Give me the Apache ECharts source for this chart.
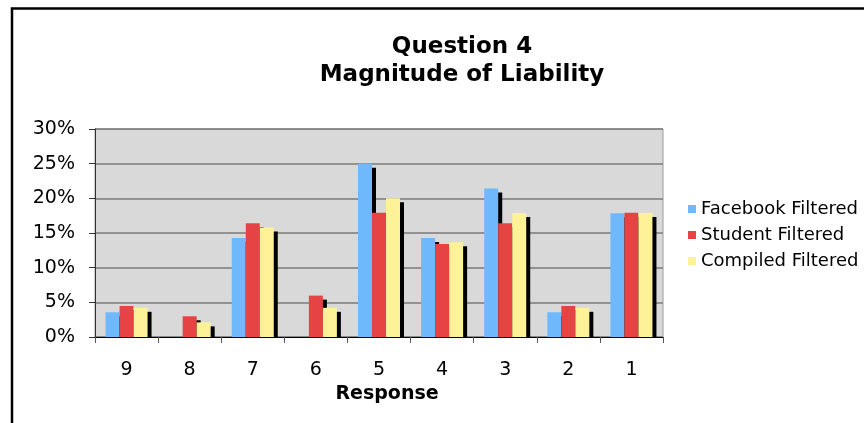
<!DOCTYPE html>
<html>
<head>
<meta charset="utf-8">
<script src="https://cdn.jsdelivr.net/npm/echarts@6/dist/echarts.min.js"></script>
<style>
  html, body { margin: 0; padding: 0; background: #fff; }
  #chart { width: 864px; height: 423px; }
</style>
</head>
<body>
<div id="chart"></div>
<script>
// responses, shown from 9 down to 1
const categories = ["9", "8", "7", "6", "5", "4", "3", "2", "1"]
// percentages
const facebook = [3.57, 0, 14.29, 0, 25.0, 14.29, 21.43, 3.57, 17.86]
const student = [4.48, 2.99, 16.42, 5.97, 17.91, 13.43, 16.42, 4.48, 17.91]
const compiled = [4.21, 2.11, 15.79, 4.21, 20.0, 13.68, 17.89, 4.21, 17.89]
const seriesNames = ["Facebook Filtered", "Student Filtered", "Compiled Filtered"]
const colors = ["#70b8fc", "#e64444", "#fdf297"]

const font = "DejaVu Sans, Verdana, sans-serif"

const barStyle = (color) => ({
  color: color,
  shadowColor: "#000",
  shadowBlur: 0,
  shadowOffsetX: 4,
  shadowOffsetY: 4,
})

const chart = echarts.init(document.getElementById("chart"))
chart.setOption({
  animation: false,
  color: colors,
  textStyle: { fontFamily: font },
  graphic: [
    {
      // outer frame
      type: "rect",
      shape: { x: 12, y: 8.5, width: 900, height: 500 },
      style: { fill: null, stroke: "#000", lineWidth: 2.5 },
    },
    {
      type: "text",
      x: 462,
      y: 33,
      style: {
        text: "Question 4\nMagnitude of Liability",
        textAlign: "center",
        fontFamily: font,
        fontWeight: "bold",
        fontSize: 23,
        lineHeight: 28,
        fill: "#000",
      },
    },
    {
      // hide the bar shadows below the axis
      type: "rect",
      z: 10,
      shape: { x: 95, y: 338, width: 575, height: 6 },
      style: { fill: "#fff" },
    },
  ],
  legend: {
    orient: "vertical",
    left: 683,
    top: 195,
    itemWidth: 8,
    itemHeight: 8,
    itemGap: 8,
    icon: "rect",
    textStyle: { fontSize: 18, color: "#000", fontFamily: font },
    data: seriesNames,
  },
  grid: {
    left: 95,
    right: 201,
    top: 129,
    bottom: 86,
    show: true,
    backgroundColor: "#d9d9d9",
    borderColor: "#9a9a9a",
    borderWidth: 1,
  },
  xAxis: {
    type: "category",
    data: categories,
    z: 20,
    name: "Response",
    nameLocation: "middle",
    nameGap: 48,
    nameTextStyle: {
      fontSize: 19,
      fontWeight: "bold",
      color: "#000",
      padding: [0, 0, 0, 16],
    },
    axisLine: { lineStyle: { color: "#000", width: 1 } },
    axisTick: { show: true, length: 6, lineStyle: { color: "#555" } },
    axisLabel: { fontSize: 19, color: "#000", margin: 24 },
  },
  yAxis: {
    type: "value",
    min: 0,
    max: 30,
    interval: 5,
    axisLine: { show: true, lineStyle: { color: "#333", width: 1 } },
    axisTick: { show: true, length: 6, lineStyle: { color: "#333" } },
    axisLabel: { formatter: "{value}%", fontSize: 19, color: "#000", margin: 20 },
    splitLine: { lineStyle: { color: "#7a7a7a", width: 1.5 } },
  },
  series: [
    { name: seriesNames[0], type: "bar", data: facebook, barWidth: 14, barGap: "0%", itemStyle: barStyle(colors[0]) },
    { name: seriesNames[1], type: "bar", data: student, barWidth: 14, barGap: "0%", itemStyle: barStyle(colors[1]) },
    { name: seriesNames[2], type: "bar", data: compiled, barWidth: 14, barGap: "0%", itemStyle: barStyle(colors[2]) },
  ],
})
</script>
</body>
</html>
